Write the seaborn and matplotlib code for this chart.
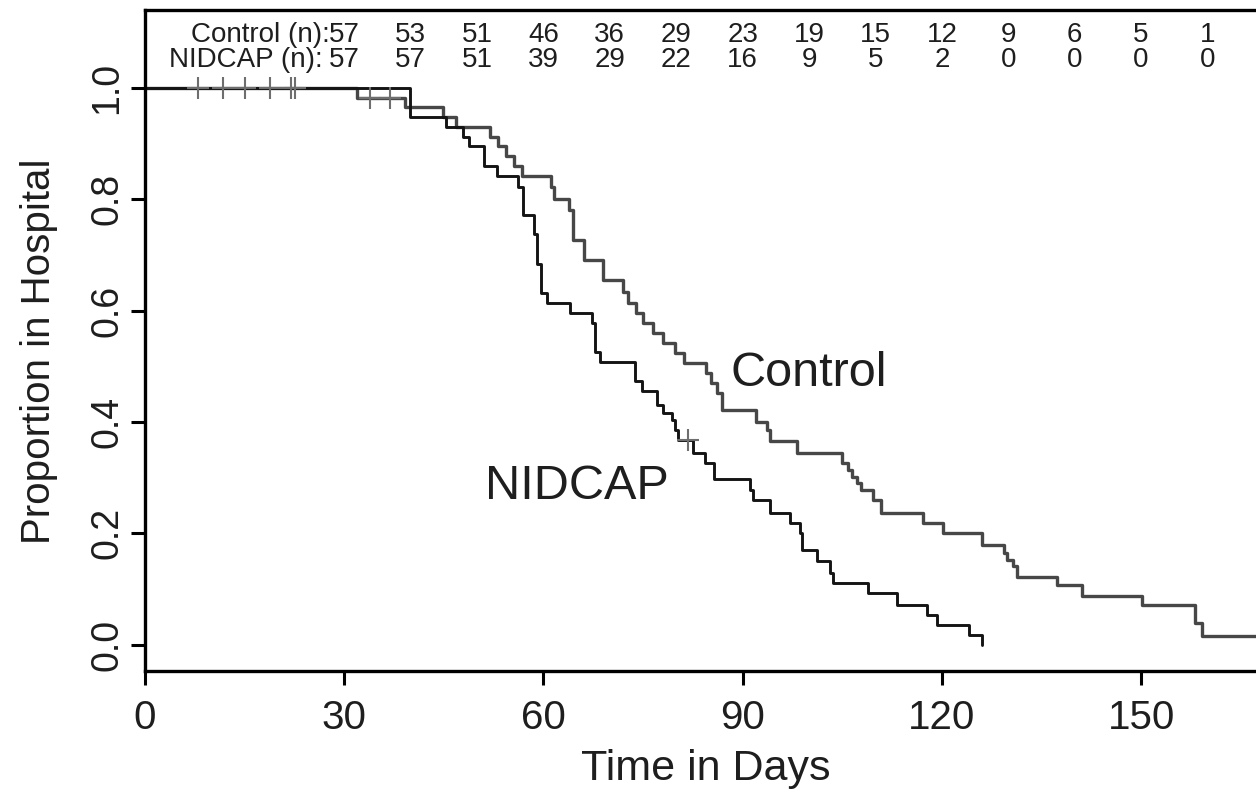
import matplotlib
matplotlib.use("Agg")
import matplotlib.pyplot as plt
import matplotlib.ticker as mticker
import seaborn as sns
import pandas as pd
import numpy as np

#%% DATA
# Kaplan-Meier steps: day of the step, proportion after it
control_days = [0, 31.9, 39.2, 44.9, 46.8, 52.0, 53.2, 54.4, 55.6, 56.8,
                61.2, 61.6, 63.9, 64.4, 66.1, 68.9, 72.0, 72.8, 74.0, 75.0,
                76.5, 78.0, 79.8, 81.2, 84.5, 85.3, 86.2, 86.9, 92.0, 93.6,
                94.1, 98.2, 105.0, 105.8, 106.5, 107.2, 107.8, 109.7, 110.9, 117.2,
                120.2, 126.0, 129.3, 129.8, 130.7, 131.3, 137.3, 141.1, 150.1, 158.1,
                159.1, 170]
control_surv = [1.0, 0.982, 0.965, 0.948, 0.930, 0.912, 0.895, 0.877, 0.860, 0.842,
                0.822, 0.800, 0.781, 0.727, 0.691, 0.655, 0.634, 0.614, 0.596, 0.578,
                0.560, 0.542, 0.524, 0.506, 0.488, 0.470, 0.452, 0.422, 0.400, 0.386,
                0.366, 0.345, 0.327, 0.314, 0.302, 0.290, 0.278, 0.260, 0.237, 0.219,
                0.201, 0.180, 0.165, 0.153, 0.141, 0.122, 0.108, 0.087, 0.072, 0.039,
                0.015, 0.015]

nidcap_days = [0, 39.9, 45.3, 47.9, 48.8, 51.0, 53.0, 56.2, 57.0, 58.6,
               59.0, 59.7, 60.5, 64.0, 67.3, 67.8, 68.5, 73.8, 74.8, 77.1,
               78.0, 79.3, 79.8, 80.3, 82.6, 84.3, 85.7, 91.1, 91.6, 94.1,
               97.1, 98.6, 98.9, 101.2, 103.2, 103.6, 108.9, 113.2, 117.8, 119.2,
               124.1, 126.0]
nidcap_surv = [1.0, 0.947, 0.930, 0.912, 0.895, 0.859, 0.842, 0.823, 0.772, 0.737,
               0.684, 0.632, 0.614, 0.596, 0.578, 0.526, 0.508, 0.474, 0.456, 0.430,
               0.416, 0.404, 0.386, 0.368, 0.345, 0.327, 0.298, 0.278, 0.260, 0.237,
               0.219, 0.201, 0.171, 0.150, 0.129, 0.111, 0.093, 0.072, 0.054, 0.036,
               0.018, 0.0]

# censored observations (days)
control_censor = [33.9, 36.9]
nidcap_censor = [8.0, 11.7, 15.1, 18.8, 22.0, 22.6, 81.8]

# numbers at risk
risk_days = [30, 40, 50, 60, 70, 80, 90, 100, 110, 120, 130, 140, 150, 160]
control_risk = [57, 53, 51, 46, 36, 29, 23, 19, 15, 12, 9, 6, 5, 1]
nidcap_risk = [57, 57, 51, 39, 29, 22, 16, 9, 5, 2, 0, 0, 0, 0]

x_ticks = [0, 30, 60, 90, 120, 150]
y_ticks = [0.0, 0.2, 0.4, 0.6, 0.8, 1.0]


def step_value(days, surv, t):
    idx = np.searchsorted(days, t, side="right") - 1
    return np.asarray(surv)[idx]


#%% PLOT
sns.set_style("ticks")
plt.rcParams["font.family"] = ["Liberation Sans", "DejaVu Sans"]

CONTROL_COLOR = "#474747"
NIDCAP_COLOR = "#141414"
TEXT_COLOR = "#1e1e1e"

fig = plt.figure(figsize=(12.56, 7.92), dpi=100)
ax = fig.add_axes([0.1154, 0.1528, 0.8846, 0.8346])

df_control = pd.DataFrame({"day": control_days, "surv": control_surv})
df_nidcap = pd.DataFrame({"day": nidcap_days, "surv": nidcap_surv})

sns.lineplot(data=df_control, x="day", y="surv", drawstyle="steps-post",
             estimator=None, sort=False, color=CONTROL_COLOR, linewidth=2.4, ax=ax)
sns.lineplot(data=df_nidcap, x="day", y="surv", drawstyle="steps-post",
             estimator=None, sort=False, color=NIDCAP_COLOR, linewidth=2.1, ax=ax)

ax.plot(control_censor, step_value(control_days, control_surv, control_censor),
        ls="none", marker="+", ms=16, mew=1.5, color="#6e6e6e")
ax.plot(nidcap_censor, step_value(nidcap_days, nidcap_surv, nidcap_censor),
        ls="none", marker="+", ms=16, mew=1.5, color="#6e6e6e")

# numbers at risk along the top
for row_y, label, counts in [(1.095, "Control (n):", control_risk),
                             (1.050, "NIDCAP (n): ", nidcap_risk)]:
    ax.text(risk_days[0] - 2.1, row_y, label, ha="right", va="center",
            fontsize=20, color=TEXT_COLOR)
    for day, n in zip(risk_days, counts):
        ax.text(day, row_y, str(n), ha="center", va="center",
                fontsize=20, color=TEXT_COLOR)

ax.text(100.0, 0.487, "Control", ha="center", va="center", fontsize=35, color=TEXT_COLOR)
ax.text(65.1, 0.285, "NIDCAP", ha="center", va="center", fontsize=35, color=TEXT_COLOR)

ax.set_xlim(0, 167.3)
ax.set_ylim(-0.047, 1.14)
ax.set_xticks(x_ticks)
ax.set_yticks(y_ticks)
ax.yaxis.set_major_formatter(mticker.FormatStrFormatter("%.1f"))

ax.tick_params(axis="both", direction="out", length=10, width=2.2,
               labelcolor=TEXT_COLOR, color="black")
ax.tick_params(axis="x", pad=10, labelsize=29)
ax.tick_params(axis="y", pad=4, labelsize=27)
for lab in ax.get_yticklabels():
    lab.set_rotation(90)
    lab.set_va("center")

for side in ["left", "top", "bottom"]:
    ax.spines[side].set_linewidth(2.4)
    ax.spines[side].set_color("black")
ax.spines["right"].set_visible(False)

ax.set_xlabel("Time in Days", fontsize=31, color=TEXT_COLOR)
ax.set_ylabel("Proportion in Hospital", fontsize=29, color=TEXT_COLOR)
ax.xaxis.set_label_coords(0.505, -0.118)
ax.yaxis.set_label_coords(-0.078, 0.484)

fig.savefig("out.png", dpi=100)
